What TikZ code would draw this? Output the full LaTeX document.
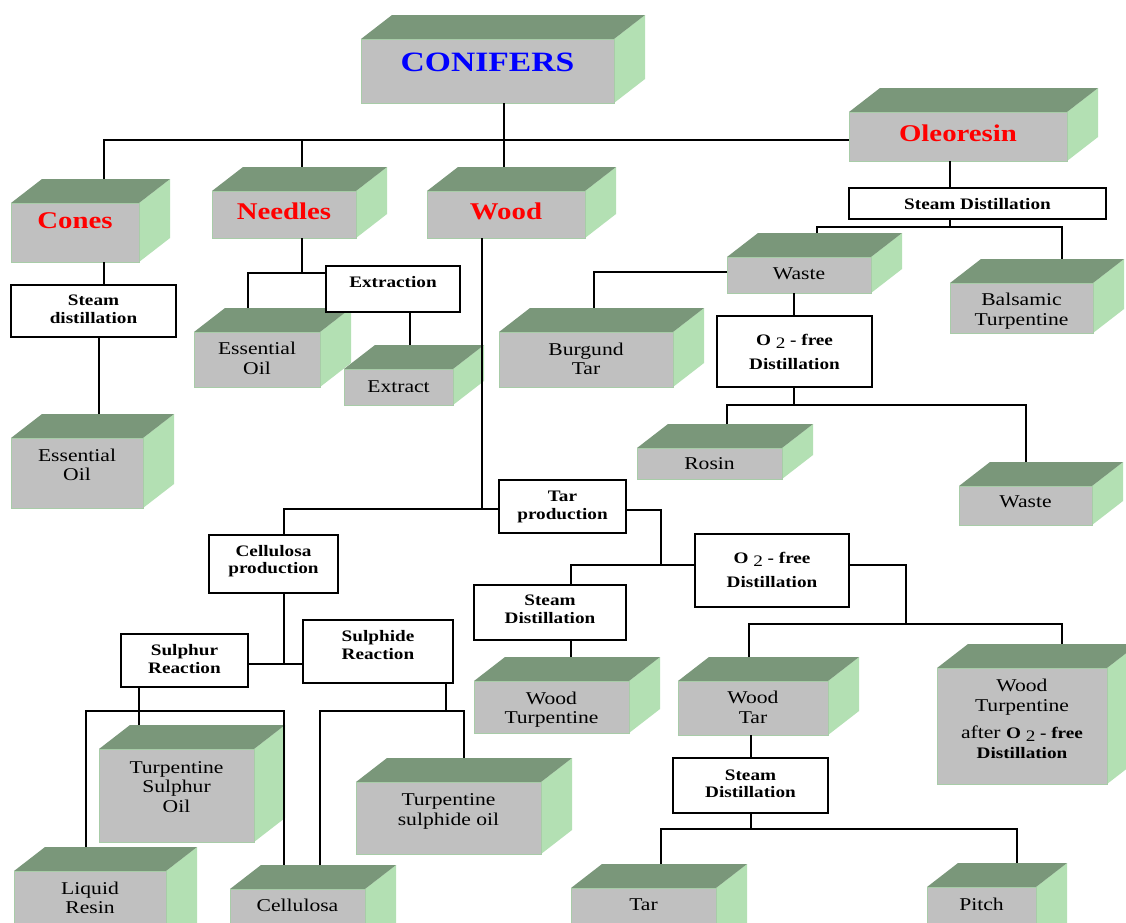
\documentclass[tikz,border=0pt]{standalone}
\usepackage{fontspec}
\setmainfont{Liberation Serif}[FakeStretch=1.2]
\definecolor{cface}{HTML}{C0C0C0}
\definecolor{ctop}{HTML}{7A977A}
\definecolor{cside}{HTML}{B3E0B3}
\definecolor{cedge}{HTML}{A8CCA8}
\tikzset{
  face/.style={fill=cface, draw=cedge, line width=0.8pt, inner sep=0pt, outer sep=0pt},
  plainbox/.style={fill=white, draw=black, line width=1.4pt, inner sep=0pt, outer sep=0pt},
  conn/.style={draw=black, line width=1.4pt},
  rtxt/.style={font=\fontsize{18}{19.5}\selectfont, align=center, inner sep=0pt},
  htxt/.style={font=\fontsize{24}{26}\selectfont\bfseries, text=red, inner sep=0pt},
  ctxt/.style={font=\fontsize{28}{30}\selectfont\bfseries, text=blue, inner sep=0pt},
  btxt/.style={font=\fontsize{16}{17.5}\selectfont\bfseries, align=center, inner sep=0pt}
}
% #1 name, #2 x1, #3 y1, #4 x2, #5 y2, #6 text y, #7 text style, #8 text
\newcommand\cube[8]{%
  \fill[cside] (#4,#3) -- (#4+31,#3-24) -- (#4+31,#5-24) -- (#4,#5) -- cycle;
  \fill[ctop] (#2,#3) -- (#2+31,#3-24) -- (#4+31,#3-24) -- (#4,#3) -- cycle;
  \node[face, minimum width={(#4-#2)*1pt}, minimum height={(#5-#3)*1pt}] (#1) at ({(#2+#4)/2},{(#3+#5)/2}) {};
  \coordinate (#1-top) at ({(#2+#4)/2+31},{#3-24});
  \node[#7] (#1-t) at ({(#2+#4)/2},#6) {#8};
}
% #1 name, #2 x1, #3 y1, #4 x2, #5 y2, #6 text y, #7 text
\newcommand\pbox[7]{%
  \node[plainbox, minimum width={(#4-#2)*1pt}, minimum height={(#5-#3)*1pt}] (#1) at ({(#2+#4)/2},{(#3+#5)/2}) {};
  \node[btxt] (#1-t) at ({(#2+#4)/2},#6) {#7};
}
\newcommand\otwo{O \raisebox{-0.35ex}{\mdseries 2} - free}
\begin{document}
\begin{tikzpicture}[x=1pt,y=-1pt]
\useasboundingbox (0,0) rectangle (1126,922);
\clip (0,0) rectangle (1126,922);
\fill[white] (0,0) rectangle (1126,922);

% ---------- 3D boxes ----------
\cube{conifers}{361}{39}{614}{103}{62.5}{ctxt}{CONIFERS}
\cube{cones}{11}{203}{139}{262}{221}{htxt}{Cones}
\cube{needles}{212}{191}{356}{238}{211}{htxt}{Needles}
\cube{wood}{427}{191}{585}{238}{211}{htxt}{Wood}
\cube{oleo}{849}{112}{1067}{161}{133.5}{htxt}{Oleoresin}
\cube{eo1}{194}{332}{320}{387}{358.5}{rtxt}{Essential\\Oil}
\cube{extract}{344}{369}{453}{405}{386.5}{rtxt}{Extract}
\cube{burgund}{499}{332}{673}{387}{359}{rtxt}{Burgund\\Tar}
\cube{waste1}{727}{257}{871}{293}{274}{rtxt}{Waste}
\cube{balsamic}{950}{283}{1093}{333}{311}{rtxt}{Balsamic\\Turpentine}
\cube{rosin}{637}{448}{782}{479}{463.5}{rtxt}{Rosin}
\cube{waste2}{959}{486}{1092}{525}{502}{rtxt}{Waste}
\cube{eo2}{11}{438}{143}{508}{465}{rtxt}{Essential\\Oil}
\cube{woodturp}{474}{681}{629}{733}{709.5}{rtxt}{Wood\\Turpentine}
\cube{woodtar}{678}{681}{828}{735}{707.5}{rtxt}{Wood\\Tar}
\cube{wtao}{937}{668}{1107}{784}{719}{rtxt}{Wood\\Turpentine\\[8pt]after {\fontsize{16}{19.5}\selectfont\bfseries\otwo}\\{\fontsize{16}{19.5}\selectfont\bfseries Distillation}}
\cube{tso}{99}{749}{254}{842}{787}{rtxt}{Turpentine\\Sulphur\\Oil}
\cube{tsuo}{356}{782}{541}{854}{811.5}{rtxt}{Turpentine\\sulphide oil}
\cube{liquid}{14}{871}{166}{960}{898}{rtxt}{Liquid\\Resin}
\cube{cellulosa}{230}{889}{365}{960}{905}{rtxt}{Cellulosa}
\cube{tar}{571}{888}{716}{960}{904.5}{rtxt}{Tar}
\cube{pitch}{927}{887}{1036}{960}{904}{rtxt}{Pitch}

% ---------- plain boxes ----------
\pbox{sd1}{11}{285}{176}{337}{309.5}{Steam\\distillation}
\pbox{extraction}{326}{266}{460}{312}{282.5}{Extraction}
\pbox{sd2}{849}{188}{1106}{219}{204}{Steam Distillation}
\pbox{o2a}{717}{316}{872}{387}{352}{\otwo\\[6pt]Distillation}
\pbox{tarprod}{499}{480}{626}{533}{507}{Tar\\production}
\pbox{cellprod}{209}{535}{338}{593}{561}{Cellulosa\\production}
\pbox{o2b}{695}{534}{849}{607}{570}{\otwo\\[6pt]Distillation}
\pbox{sd3}{474}{585}{626}{640}{609.5}{Steam\\Distillation}
\pbox{sulphur}{121}{634}{248}{687}{659}{Sulphur\\Reaction}
\pbox{sulphide}{303}{620}{453}{683}{645}{Sulphide\\Reaction}
\pbox{sd4}{673}{758}{828}{813}{784}{Steam\\Distillation}

% ---------- connectors ----------
\coordinate (b1) at (104,140);
\coordinate (b2) at (302,140);
\coordinate (b3) at (504,140);
\draw[conn] (b1 |- cones-top) -- (b1) -- (oleo.west |- b1);
\draw[conn] (b2) -- (b2 |- needles-top);
\draw[conn] (conifers.south -| b3) -- (b3 |- wood-top);
% cones
\draw[conn] (cones.south -| b1) -- (sd1.north -| b1);
\coordinate (c2) at (99,400);
\draw[conn] (sd1.south -| c2) -- (c2 |- eo2-top);
% needles
\coordinate (n1) at (302,273);
\coordinate (n2) at (248,273);
\coordinate (n3) at (410,330);
\draw[conn] (needles.south -| n1) -- (n1);
\draw[conn] (extraction.west |- n1) -- (n2) -- (n2 |- eo1-top);
\draw[conn] (extraction.south -| n3) -- (n3 |- extract-top);
% wood
\coordinate (w1) at (482,509);
\coordinate (w2) at (284,509);
\draw[conn] (wood.south -| w1) -- (w1);
\draw[conn] (tarprod.west |- w1) -- (w2) -- (w2 |- cellprod.north);
% cellulosa production
\coordinate (c3) at (284,664);
\draw[conn] (cellprod.south -| c3) -- (c3);
\draw[conn] (sulphur.east |- c3) -- (sulphide.west |- c3);
\coordinate (s1) at (139,711);
\coordinate (s2) at (86,711);
\coordinate (s3) at (284,711);
\draw[conn] (sulphur.south -| s1) -- (s1 |- tso-top);
\draw[conn] (s2 |- liquid-top) -- (s2) -- (s3) -- (s3 |- cellulosa-top);
\coordinate (s4) at (446,711);
\coordinate (s5) at (320,711);
\coordinate (s6) at (464,711);
\draw[conn] (sulphide.south -| s4) -- (s4);
\draw[conn] (s5 |- cellulosa-top) -- (s5) -- (s6) -- (s6 |- tsuo-top);
% tar production
\coordinate (t1) at (661,510);
\coordinate (t2) at (661,565);
\coordinate (t3) at (571,565);
\draw[conn] (tarprod.east |- t1) -- (t1) -- (t2);
\draw[conn] (t3 |- sd3.north) -- (t3) -- (o2b.west |- t3);
\draw[conn] (sd3.south -| t3) -- (t3 |- woodturp-top);
\coordinate (t4) at (906,565);
\coordinate (t5) at (906,624);
\coordinate (t6) at (749,624);
\coordinate (t7) at (1062,624);
\draw[conn] (o2b.east |- t4) -- (t4) -- (t5);
\draw[conn] (t6 |- woodtar-top) -- (t6) -- (t7) -- (t7 |- wtao-top);
\coordinate (t8) at (751,829);
\coordinate (t9) at (661,829);
\coordinate (t10) at (1017,829);
\draw[conn] (woodtar.south -| t8) -- (sd4.north -| t8);
\draw[conn] (sd4.south -| t8) -- (t8);
\draw[conn] (t9 |- tar-top) -- (t9) -- (t10) -- (t10 |- pitch-top);
% oleoresin
\coordinate (o1) at (950,227);
\coordinate (o2) at (817,227);
\coordinate (o3) at (1062,227);
\draw[conn] (oleo.south -| o1) -- (sd2.north -| o1);
\draw[conn] (sd2.south -| o1) -- (o1);
\draw[conn] (o2 |- waste1-top) -- (o2) -- (o3) -- (o3 |- balsamic-top);
\coordinate (o4) at (594,272);
\draw[conn] (waste1.west |- o4) -- (o4) -- (o4 |- burgund-top);
\coordinate (o5) at (794,405);
\coordinate (o6) at (727,405);
\coordinate (o7) at (1026,405);
\draw[conn] (waste1.south -| o5) -- (o2a.north -| o5);
\draw[conn] (o2a.south -| o5) -- (o5);
\draw[conn] (o6 |- rosin-top) -- (o6) -- (o7) -- (o7 |- waste2-top);
\end{tikzpicture}
\end{document}
